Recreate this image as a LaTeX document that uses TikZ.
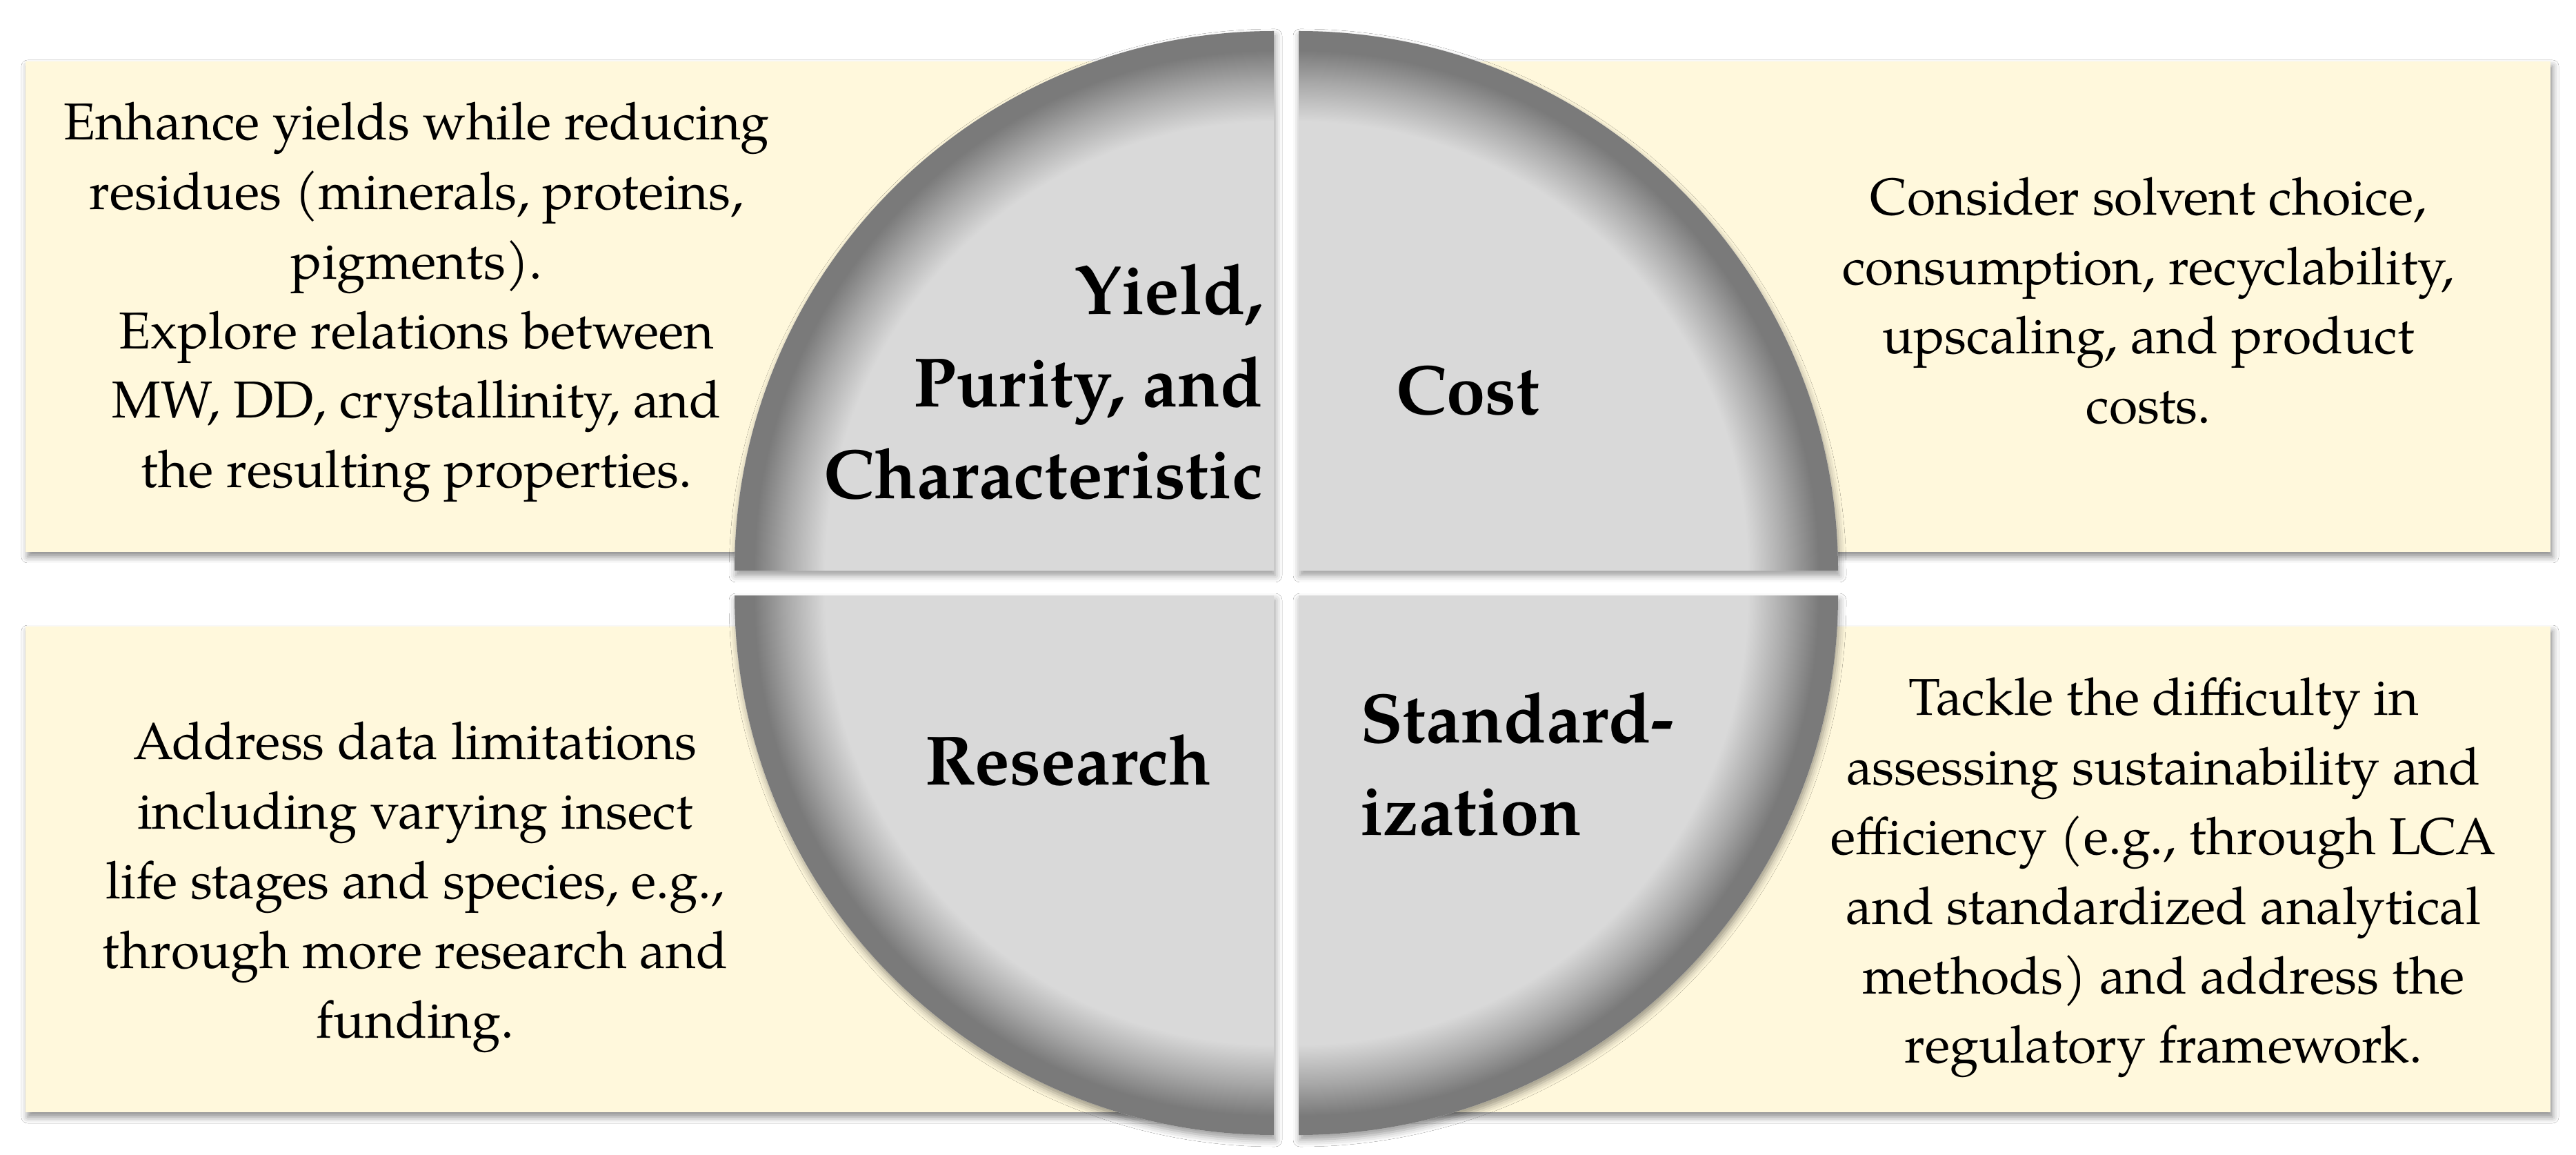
\documentclass[tikz,border=0pt]{standalone}
\usepackage{fontspec}
\setmainfont{TeX Gyre Pagella}
\usetikzlibrary{shadows.blur}
\definecolor{cream}{RGB}{255,248,220}
\definecolor{qlight}{RGB}{217,217,217}
\definecolor{qmid}{RGB}{168,168,168}
\definecolor{qdark}{RGB}{122,122,122}
\pgfdeclareradialshading{rim}{\pgfpoint{0bp}{0bp}}{color(0bp)=(qlight); color(20.8bp)=(qlight); color(22.6bp)=(qmid); color(24.1bp)=(qdark); color(25bp)=(qdark); color(50bp)=(qdark)}
\begin{document}
\begin{tikzpicture}[
  infobox/.style={draw=none, fill=cream, inner sep=0pt, blur shadow={shadow xshift=0.03cm, shadow yshift=-0.07cm, shadow blur radius=0.09cm, shadow opacity=45}},
  bodytext/.style={align=center, inner sep=0pt, font=\fontsize{21.4}{28.7}\selectfont},
  titletext/.style={inner sep=0pt, font=\fontsize{28.8}{38.1}\selectfont\bfseries},
  qshadow/.style={fill=qlight, blur shadow={shadow xshift=0.02cm, shadow yshift=-0.07cm, shadow blur radius=0.1cm, shadow opacity=40}}
]
\useasboundingbox[fill=white] (0,0) rectangle (37.35,16.73);

% boxes
\node[infobox, minimum width=17.63cm, minimum height=7.11cm] (boxTL) at (9.185,12.285) {};
\node[infobox, minimum width=17.63cm, minimum height=7.11cm] (boxTR) at (28.165,12.285) {};
\node[infobox, minimum width=17.63cm, minimum height=7.04cm] (boxBL) at (9.185,4.13) {};
\node[infobox, minimum width=17.63cm, minimum height=7.04cm] (boxBR) at (28.165,4.13) {};

% quadrant corners
\coordinate (cTL) at (18.47,8.46);
\coordinate (cTR) at (18.83,8.46);
\coordinate (cBL) at (18.47,8.10);
\coordinate (cBR) at (18.83,8.10);

% top-left quadrant
\path[qshadow] (cTL) -- ++(-7.82,0) arc[start angle=180,end angle=90,radius=7.82] -- cycle;
\begin{scope}
\clip (cTL) -- ++(-7.82,0) arc[start angle=180,end angle=90,radius=7.82] -- cycle;
\shade[shading=rim] (cTL) circle (7.82);
\end{scope}
% top-right quadrant
\path[qshadow] (cTR) -- ++(0,7.82) arc[start angle=90,end angle=0,radius=7.82] -- cycle;
\begin{scope}
\clip (cTR) -- ++(0,7.82) arc[start angle=90,end angle=0,radius=7.82] -- cycle;
\shade[shading=rim] (cTR) circle (7.82);
\end{scope}
% bottom-left quadrant
\path[qshadow] (cBL) -- ++(-7.82,0) arc[start angle=180,end angle=270,radius=7.82] -- cycle;
\begin{scope}
\clip (cBL) -- ++(-7.82,0) arc[start angle=180,end angle=270,radius=7.82] -- cycle;
\shade[shading=rim] (cBL) circle (7.82);
\end{scope}
% bottom-right quadrant
\path[qshadow] (cBR) -- ++(7.82,0) arc[start angle=0,end angle=-90,radius=7.82] -- cycle;
\begin{scope}
\clip (cBR) -- ++(7.82,0) arc[start angle=0,end angle=-90,radius=7.82] -- cycle;
\shade[shading=rim] (cBR) circle (7.82);
\end{scope}

% body texts
\node[bodytext] (tTL) at (6.04,12.35) {Enhance yields while reducing\\ residues (minerals, proteins,\\ pigments).\\ Explore relations between\\ MW, DD, crystallinity, and\\ the resulting properties.};
\node[bodytext] (tTR) at (31.15,12.37) {Consider solvent choice,\\ consumption, recyclability,\\ upscaling, and product\\ costs.};
\node[bodytext] (tBL) at (6.02,3.87) {Address data limitations\\ including varying insect\\ life stages and species, e.g.,\\ through more research and\\ funding.};
\node[bodytext] (tBR) at (31.37,4.01) {Tackle the difficulty in\\ assessing sustainability and\\ efficiency (e.g., through LCA\\ and standardized analytical\\ methods) and address the\\ regulatory framework.};

% titles
\node[titletext, align=right, anchor=east] (hTL) at (18.32,11.195) {Yield,\\ Purity, and\\ Characteristic};
\node[titletext, anchor=base] (hTR) at (21.28,10.73) {Cost};
\node[titletext, anchor=base] (hBL) at (15.49,5.36) {Research};
\node[titletext, align=left, anchor=west] (hBR) at (19.72,5.65) {Standard-\\ ization};
\end{tikzpicture}
\end{document}
